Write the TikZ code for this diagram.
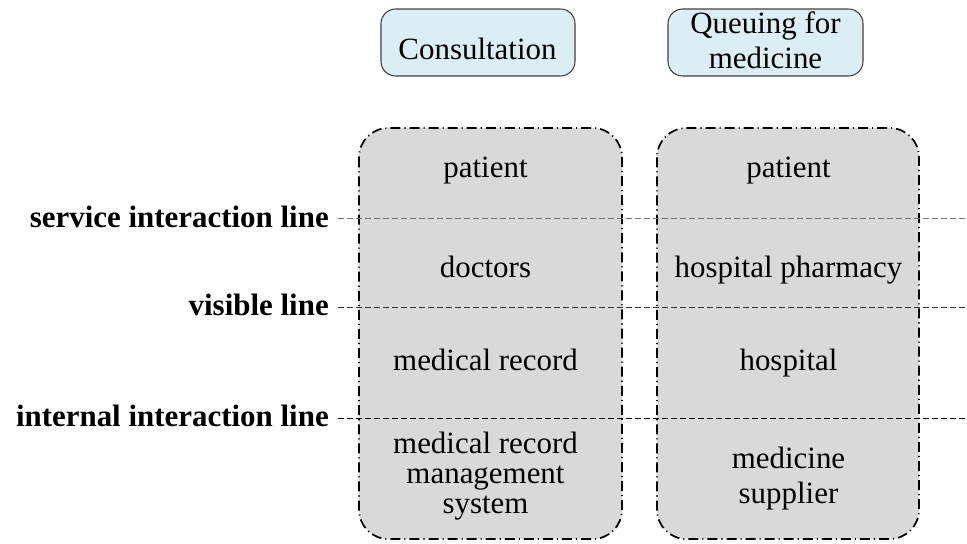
\documentclass[tikz,border=0pt]{standalone}
\usepackage{fontspec}
\setmainfont{Liberation Serif}
\definecolor{topfill}{HTML}{DAEEF3}
\definecolor{boxfill}{HTML}{D9D9D9}
\definecolor{topdraw}{HTML}{404040}
\begin{document}
\begin{tikzpicture}[x=0.75pt,y=-0.75pt,
  txt/.style={font=\fontsize{23.2pt}{23.2pt}\selectfont, inner sep=0pt, anchor=base},
  lbl/.style={font=\fontsize{23.2pt}{23.2pt}\selectfont\bfseries, inner sep=0pt, anchor=east},
  topbox/.style={draw=topdraw, fill=topfill, line width=0.8pt, rounded corners=11pt},
  lane/.style={draw=black, fill=boxfill, line width=1.3pt, rounded corners=22pt,
    dash pattern=on 7.5pt off 3pt on 0.8pt off 3pt},
  divline/.style={line width=0.75pt, dash pattern=on 4.5pt off 2.25pt}
]
\useasboundingbox (0,0) rectangle (967,543);

% top boxes
\path[topbox] (381,9) rectangle (575,76);
\path[topbox] (668,9) rectangle (863,76);
\node[txt] (cons) at (477.5,59) {Consultation};
\node[txt] (queue1) at (765.5,33) {Queuing for};
\node[txt] (queue2) at (765.5,68) {medicine};

% lanes
\path[lane] (359,128) rectangle (622,539);
\path[lane] (657,128) rectangle (919,539);

% horizontal lines
\coordinate (s0) at (338,218); \coordinate (s1) at (967,218);
\coordinate (v0) at (338,307); \coordinate (v1) at (967,307);
\coordinate (i0) at (338,418); \coordinate (i1) at (967,418);
\draw[divline, draw=black!55] (s0) -- (s1);
\draw[divline, draw=black!80] (v0) -- (v1);
\draw[divline, draw=black] (i0) -- (i1);

% labels
\node[lbl] (lsvc) at (329,217) {service interaction line};
\node[lbl] (lvis) at (329,305) {visible line};
\node[lbl] (lint) at (329,416) {internal interaction line};

% left lane texts
\node[txt] (p1) at (485.5,177) {patient};
\node[txt] (d1) at (485.5,277) {doctors};
\node[txt] (m1) at (485.5,370) {medical record};
\node[txt] (mr1) at (485.5,453) {medical record};
\node[txt] (mr2) at (485.5,483) {management};
\node[txt] (mr3) at (485.5,513) {system};

% right lane texts
\node[txt] (p2) at (788.5,177) {patient};
\node[txt] (h2) at (788.5,277) {hospital pharmacy};
\node[txt] (ho2) at (788.5,370) {hospital};
\node[txt] (ms1) at (788.5,468) {medicine};
\node[txt] (ms2) at (788.5,503) {supplier};
\end{tikzpicture}
\end{document}
